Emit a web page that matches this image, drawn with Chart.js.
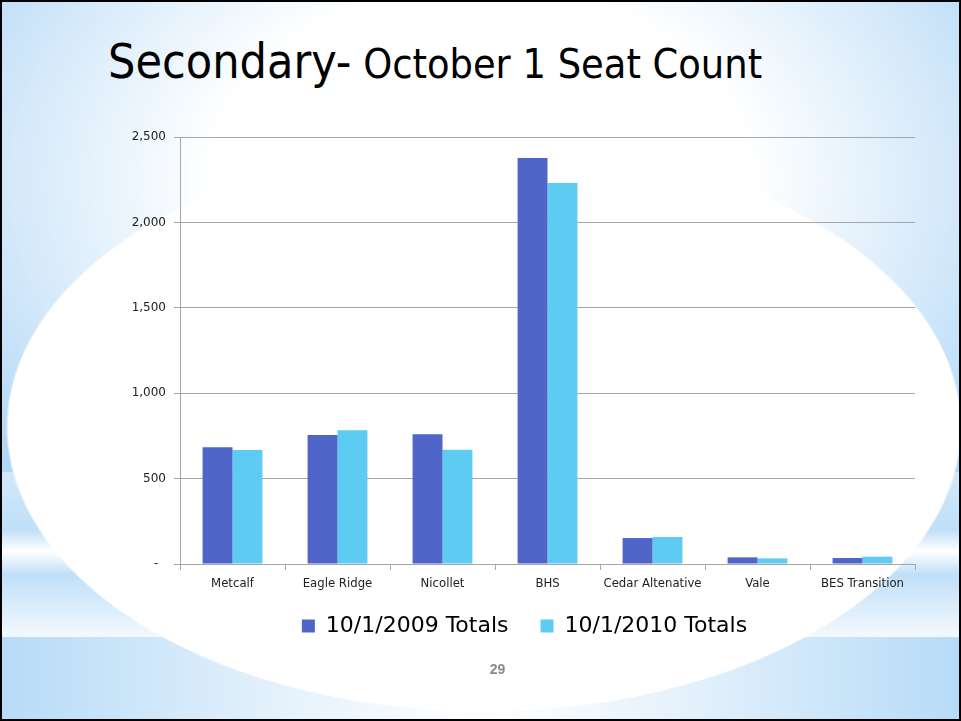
<!DOCTYPE html>
<html>
<head>
<meta charset="utf-8">
<script src="https://cdn.jsdelivr.net/npm/chart.js@4.4.1/dist/chart.umd.min.js"></script>
<style>
  html, body { margin: 0; padding: 0; }
  #slide {
    position: relative;
    width: 961px; height: 721px;
    box-sizing: border-box;
    border: 2px solid #000;
    overflow: hidden;
    background:
      radial-gradient(ellipse 478px 285px at 482px 425px, #fff 99.5%, rgba(255,255,255,0) 100%),
      linear-gradient(to right, #b7dbf7 0%, #e6f2fc 30%, #ffffff 50%, #e6f2fc 70%, #b7dbf7 100%) 0 635px / 100% 90px no-repeat,
      linear-gradient(to bottom, #d2e8fa 0%, #bfdff8 35%, #ffffff 48%, #bfdff8 62%, #f4f9fe 100%) 0 470px / 100% 165px no-repeat,
      radial-gradient(ellipse 600px 430px at 50% 25%, #ffffff 45%, #d4e9fa 78%, #b3d8f6 100%);
  }
  #title {
    position: absolute; left: 106px; top: 31px;
    font-family: "DejaVu Sans Condensed", "DejaVu Sans", sans-serif;
    color: #000; white-space: nowrap;
  }
  #title .big { font-size: 48px; }
  #title .small { font-size: 41px; }
  #page {
    position: absolute; left: 17px; width: 957px; top: 659px; text-align: center;
    font: bold 14px "Liberation Sans", Arial, sans-serif; color: #8a8a8a;
  }
  #chartBox { position: absolute; left: 0; top: 0; width: 957px; height: 717px; }
</style>
</head>
<body>
<div id="slide">
  <div id="title"><span class="big">Secondary-</span><span class="small"> October 1 Seat Count</span></div>
  <div id="chartBox"><canvas id="bar-chart"></canvas></div>
  <div id="page">29</div>
</div>
<script>
  'use strict';
  // data
  var schools = ["Metcalf", "Eagle Ridge", "Nicollet", "BHS", "Cedar Altenative", "Vale", "BES Transition"];
  var totals2009 = [683, 755, 759, 2377, 152, 39, 35];
  var totals2010 = [667, 783, 669, 2231, 158, 33, 43];
  var yTicks = [0, 500, 1000, 1500, 2000, 2500];

  var gridGray = "#a6a6a6";

  // nudge the legend up/right so it sits closer to the axis labels, like the slide
  var legendNudge = {
    id: 'legendNudge',
    afterLayout: function(chart) {
      var lg = chart.legend;
      lg.top -= 17; lg.bottom -= 17;
      lg.left += 16; lg.right += 16;
    }
  };

  new Chart(document.getElementById("bar-chart"), {
    type: 'bar',
    data: {
      labels: schools,
      datasets: [
        { label: "10/1/2009 Totals", backgroundColor: "#4f66c8", data: totals2009 },
        { label: "10/1/2010 Totals", backgroundColor: "#5ecbf2", data: totals2010 }
      ]
    },
    plugins: [legendNudge],
    options: {
      responsive: true,
      maintainAspectRatio: false,
      animation: false,
      layout: { padding: { left: 100, right: 44, top: 135, bottom: 55 } },
      datasets: { bar: { categoryPercentage: 0.57, barPercentage: 1.0 } },
      plugins: {
        legend: {
          position: 'bottom',
          labels: {
            font: { family: "'DejaVu Sans'", size: 22 },
            color: "#000",
            boxWidth: 13, boxHeight: 13,
            padding: 32
          }
        },
        tooltip: { enabled: false }
      },
      scales: {
        x: {
          grid: { drawOnChartArea: false, color: gridGray, tickLength: 6 },
          border: { color: gridGray },
          ticks: { color: "#222", font: { family: "'DejaVu Sans Condensed'", size: 13 }, padding: 6, maxRotation: 0 },
          afterFit: function(s) { s.height = 36; }
        },
        y: {
          min: 0, max: 2500,
          afterBuildTicks: function(s) { s.ticks = yTicks.map(function(v) { return { value: v }; }); },
          grid: { color: gridGray, tickLength: 6 },
          border: { color: gridGray },
          ticks: {
            color: "#222",
            font: { family: "'DejaVu Sans'", size: 12 },
            padding: 8,
            callback: function(v) { return v === 0 ? '-  ' : v.toLocaleString('en-US'); }
          },
          afterFit: function(s) { s.width = 78; }
        }
      }
    }
  });
</script>
</body>
</html>
